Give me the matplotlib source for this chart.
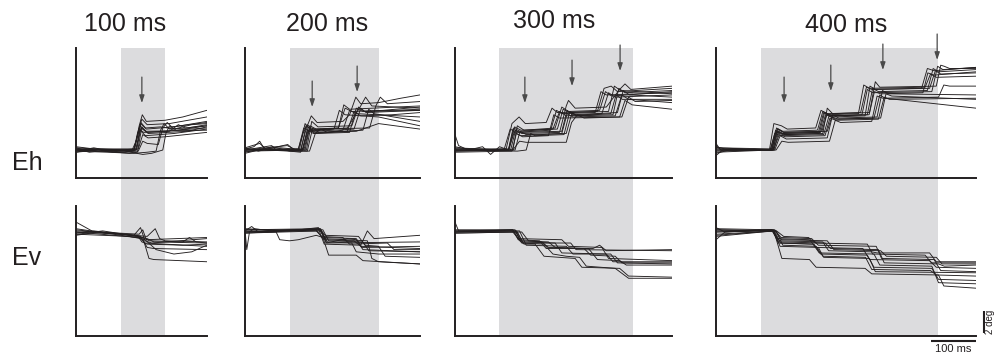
import matplotlib
matplotlib.use('Agg')
import matplotlib.pyplot as plt
from matplotlib.patches import Rectangle
from matplotlib.transforms import blended_transform_factory

plt.rcParams['font.family'] = ['Liberation Sans', 'DejaVu Sans']

# ---------------- data ----------------
TITLES = ["100 ms", "200 ms", "300 ms", "400 ms"]
ROW_LABELS = ["Eh", "Ev"]
WINDOW_MS = [100, 200, 300, 400]
T_START = -100
T_END = [194, 293, 388, 484]
EH_YLIM = (-2.54, 9.26)
EV_YLIM = (-9.44, 2.36)
ARROW_T = [[48], [51, 152], [57, 163, 271], [53, 158, 275, 397]]
ARROW_TIP = [[4.26], [3.9, 5.26], [4.26, 5.8, 7.17], [4.26, 5.35, 7.26, 8.17]]
ARROW_LEN = 2.36
SCALE_MS = 100
SCALE_DEG = 2
SCALE_LABELS = ["100 ms", "2 deg"]

# Horizontal eye position (deg), traces as (time ms, value) vertices
EH_100 = [
    [(-100, 0.2), (-80, 0.0), (-40, 0.1), (0, 0.0), (32, 0.1), (42, 2.2), (49, 3.2), (58, 2.6), (100, 2.7), (140, 3.0), (194, 3.6)],
    [(-100, -0.1), (-60, 0.2), (-20, -0.1), (30, 0.0), (38, 1.5), (48, 2.8), (60, 2.3), (110, 2.4), (194, 3.0)],
    [(-100, 0.1), (-70, -0.2), (-30, 0.0), (25, -0.1), (35, 0.8), (45, 2.4), (58, 1.9), (120, 2.1), (194, 2.6)],
    [(-100, -0.2), (-50, 0.0), (10, -0.2), (36, 0.0), (46, 2.0), (60, 1.6), (130, 1.8), (194, 2.2)],
    [(-100, 0.3), (-60, 0.1), (0, -0.1), (34, 0.0), (44, 1.8), (56, 1.3), (120, 1.5), (194, 1.9)],
    [(-100, 0.0), (-40, -0.1), (20, -0.3), (38, -0.2), (48, 2.1), (62, 1.5), (150, 1.7), (194, 2.1)],
    [(-100, 0.1), (-50, -0.1), (20, 0.0), (40, 0.1), (50, 1.4), (62, 1.1), (100, 1.2), (194, 1.6)],
    [(-100, -0.1), (-30, -0.2), (30, -0.3), (60, -0.2), (80, -0.1), (90, 1.8), (98, 2.4), (110, 1.9), (150, 2.0), (194, 2.3)],
    [(-100, 0.0), (0, -0.2), (40, -0.1), (50, 0.8), (60, 0.6), (85, 0.5), (95, 2.0), (105, 2.5), (115, 2.1), (194, 2.5)],
    [(-100, 0.2), (10, -0.1), (50, -0.4), (70, -0.3), (95, 0.0), (102, 1.5), (110, 2.2), (125, 1.8), (194, 2.0)],
    [(-100, 0.0), (-20, 0.1), (36, 0.1), (46, 2.5), (56, 2.0), (90, 2.1), (120, 1.9), (160, 2.3), (194, 2.4)],
    [(-100, -0.2), (-60, 0.1), (30, 0.0), (42, 1.9), (52, 1.6), (110, 1.7), (130, 2.3), (145, 2.0), (194, 2.2)],
    [(-100, 0.1), (30, 0.0), (44, 2.2), (56, 1.7), (194, 1.8)],
]

EH_200 = [
    [(-100, 0.1), (-80, 0.3), (-67, 0.8), (-55, 0.0), (-20, 0.1), (25, 0.0), (38, 2.0), (49, 3.1), (62, 2.5), (120, 2.6), (135, 3.2), (149, 4.8), (160, 4.2), (200, 4.3), (250, 4.7), (293, 5.0)],
    [(-100, 0.0), (-40, 0.4), (-30, 0.0), (20, 0.1), (30, 1.5), (40, 2.3), (52, 1.9), (110, 2.0), (125, 3.8), (140, 3.5), (210, 3.6), (293, 3.9)],
    [(-100, -0.2), (-60, 0.1), (-10, 0.0), (22, 0.0), (35, 2.4), (48, 1.8), (130, 2.0), (160, 4.0), (171, 4.8), (185, 4.0), (293, 3.8)],
    [(-100, 0.2), (-70, -0.1), (-4, 0.5), (10, 0.0), (30, 0.1), (42, 2.1), (55, 1.7), (145, 1.9), (160, 3.8), (172, 3.4), (293, 3.6)],
    [(-100, -0.1), (-50, 0.0), (28, -0.1), (40, 1.8), (54, 1.5), (130, 1.7), (145, 3.5), (160, 3.1), (230, 3.2), (293, 3.4)],
    [(-100, 0.0), (-20, 0.2), (35, 0.0), (46, 2.2), (60, 1.9), (180, 2.0), (194, 4.0), (204, 4.8), (220, 4.2), (293, 4.4)],
    [(-100, 0.1), (0, -0.1), (45, -0.1), (58, 1.5), (70, 1.9), (85, 1.6), (120, 1.8), (135, 3.6), (150, 3.3), (293, 3.0)],
    [(-100, -0.1), (30, 0.0), (42, 1.8), (58, 1.6), (150, 1.7), (200, 2.4), (293, 1.9)],
    [(-100, 0.0), (20, 0.1), (32, 2.0), (44, 1.7), (100, 1.9), (112, 3.6), (125, 3.2), (200, 3.0), (293, 2.2)],
    [(-100, 0.2), (-67, 0.6), (-50, 0.0), (38, 0.0), (50, 2.6), (64, 2.1), (140, 2.2), (155, 3.9), (168, 3.5), (293, 3.7)],
    [(-100, -0.3), (-38, 0.3), (0, -0.1), (25, -0.2), (37, 2.2), (50, 1.8), (110, 2.0), (122, 4.1), (135, 3.7), (293, 4.0)],
    [(-100, 0.1), (40, -0.1), (52, 2.0), (65, 1.6), (165, 1.8), (178, 3.7), (190, 3.3), (293, 2.6)],
    [(-100, 0.0), (-5, 0.4), (15, 0.0), (33, 0.1), (44, 1.9), (57, 1.5), (135, 1.6), (150, 3.8), (165, 3.5), (293, 3.6)],
]

EH_300 = [
    [(-100, 0.3), (-60, 0.0), (15, 0.1), (28, 2.4), (44, 3.0), (58, 2.4), (105, 2.5), (118, 3.8), (130, 3.4), (220, 3.5), (235, 5.6), (251, 5.8), (265, 5.3), (388, 5.6)],
    [(-100, 1.4), (-92, 0.4), (-70, 0.0), (-38, 0.3), (-20, -0.4), (0, 0.3), (20, 0.0), (32, 2.0), (46, 1.7), (120, 1.9), (135, 3.5), (150, 3.1), (230, 3.3), (245, 5.2), (260, 4.8), (388, 5.0)],
    [(-100, 0.0), (25, 0.0), (36, 1.8), (50, 1.5), (135, 1.6), (150, 4.0), (155, 4.5), (170, 3.8), (240, 3.9), (270, 5.5), (282, 6.0), (295, 5.5), (388, 5.8)],
    [(-100, -0.1), (20, 0.0), (33, 1.6), (48, 1.3), (140, 1.5), (152, 3.3), (165, 3.0), (260, 3.1), (275, 5.0), (290, 4.6), (388, 4.3)],
    [(-100, 0.1), (30, 0.0), (40, 2.2), (55, 1.8), (125, 2.0), (140, 3.9), (155, 3.5), (225, 3.6), (238, 5.3), (252, 4.9), (388, 5.3)],
    [(-100, 0.0), (40, -0.1), (60, 0.0), (70, 1.5), (80, 1.3), (145, 1.4), (158, 3.5), (172, 3.1), (250, 3.3), (262, 5.0), (276, 4.6), (388, 4.6)],
    [(-100, -0.1), (30, 0.0), (45, 0.8), (60, 0.7), (150, 0.7), (162, 2.5), (175, 3.2), (190, 2.9), (270, 3.0), (282, 4.5), (298, 4.1), (388, 3.7)],
    [(-100, 0.2), (10, 0.0), (24, 1.9), (38, 1.6), (115, 1.8), (128, 3.6), (140, 3.3), (215, 3.4), (228, 5.3), (240, 5.0), (388, 5.2)],
    [(-100, 0.0), (35, 0.0), (46, 1.7), (60, 1.4), (150, 1.5), (163, 3.4), (175, 3.1), (255, 3.2), (268, 5.6), (282, 5.2), (388, 5.4)],
    [(-100, 0.1), (22, 0.1), (34, 2.1), (48, 1.8), (130, 1.9), (143, 3.7), (157, 3.4), (245, 3.5), (258, 5.8), (272, 5.4), (388, 5.1)],
    [(-100, -0.2), (28, -0.1), (38, 1.5), (52, 1.2), (110, 1.3), (122, 3.2), (135, 2.9), (275, 3.0), (290, 4.8), (305, 4.4), (388, 4.5)],
    [(-100, 0.0), (20, 0.0), (30, 1.9), (44, 1.6), (140, 1.7), (152, 3.6), (165, 3.2), (265, 3.4), (278, 5.4), (292, 5.0), (388, 4.8)],
]

EH_400 = [
    [(-100, 0.6), (-90, 0.0), (-60, 0.1), (20, 0.0), (30, 2.4), (47, 2.2), (60, 1.9), (124, 2.0), (136, 3.6), (150, 3.3), (225, 3.4), (238, 5.7), (250, 5.5), (362, 5.6), (375, 7.4), (390, 7.2), (484, 7.5)],
    [(-100, -0.5), (-85, 0.0), (22, 0.0), (34, 1.8), (48, 1.5), (130, 1.6), (142, 3.4), (155, 3.1), (240, 3.2), (252, 5.6), (265, 5.3), (375, 5.4), (388, 7.4), (400, 7.1), (484, 7.3)],
    [(-100, 0.3), (-80, 0.1), (25, 0.0), (36, 1.6), (50, 1.4), (140, 1.5), (150, 3.8), (162, 3.3), (245, 3.4), (258, 6.2), (268, 5.7), (395, 5.8), (405, 7.7), (413, 7.6), (425, 7.4), (484, 7.4)],
    [(-100, -0.3), (-70, 0.0), (28, 0.0), (40, 1.9), (52, 1.6), (150, 1.7), (160, 3.0), (175, 2.8), (255, 2.9), (268, 5.0), (280, 4.7), (484, 3.8)],
    [(-100, 0.2), (30, 0.1), (42, 1.4), (56, 1.2), (145, 1.3), (156, 2.9), (170, 2.7), (265, 2.8), (278, 4.8), (290, 4.6), (484, 4.7)],
    [(-100, 0.0), (26, 0.0), (36, 2.0), (50, 1.7), (128, 1.8), (140, 3.5), (154, 3.2), (220, 3.3), (232, 5.9), (245, 5.6), (370, 5.7), (382, 6.9), (395, 6.6), (484, 6.7)],
    [(-100, 0.1), (32, 0.0), (44, 1.3), (58, 1.0), (150, 1.1), (162, 3.2), (176, 2.9), (262, 3.0), (274, 5.4), (288, 5.1), (484, 5.0)],
    [(-100, -0.2), (24, 0.0), (35, 1.7), (48, 1.5), (135, 1.6), (146, 3.2), (160, 3.0), (235, 3.1), (246, 5.8), (258, 5.5), (380, 5.6), (393, 7.2), (405, 6.9), (484, 7.0)],
    [(-100, 0.4), (-88, 0.0), (35, 0.0), (48, 0.8), (62, 0.7), (155, 0.8), (168, 2.7), (180, 2.5), (250, 2.6), (262, 4.9), (275, 4.7), (400, 4.8), (412, 5.9), (425, 5.8), (484, 5.8)],
    [(-100, 0.0), (28, 0.0), (38, 1.9), (52, 1.6), (138, 1.7), (150, 3.3), (163, 3.1), (228, 3.2), (240, 5.5), (252, 5.2), (385, 5.3), (398, 7.6), (410, 7.3), (484, 7.5)],
    [(-100, -0.1), (22, 0.0), (32, 1.5), (46, 1.3), (142, 1.4), (154, 3.1), (168, 2.8), (270, 2.9), (282, 5.1), (295, 4.9), (484, 4.6)],
    [(-100, 0.2), (30, 0.0), (41, 1.7), (55, 1.4), (132, 1.5), (144, 3.4), (158, 3.1), (244, 3.2), (256, 5.3), (270, 5.1), (365, 5.2), (376, 7.0), (390, 6.8), (484, 7.1)],
]

# Vertical eye position (deg)
EV_100 = [
    [(-100, 0.9), (-60, 0.0), (-40, 0.1), (40, -0.4), (60, -0.6), (75, -0.9), (194, -1.0)],
    [(-100, 0.2), (-55, 0.0), (30, -0.3), (45, 0.4), (55, -0.8), (70, -1.0), (194, -0.6)],
    [(-100, -0.3), (-50, 0.0), (35, -0.5), (50, -0.5), (64, -2.4), (75, -2.5), (194, -2.7)],
    [(-100, 0.0), (40, -0.5), (55, -0.7), (80, -1.6), (120, -2.0), (160, -1.8), (194, -1.2)],
    [(-100, -0.2), (-50, 0.0), (60, -0.4), (78, 0.3), (88, -0.6), (100, -0.8), (194, -0.9)],
    [(-100, 0.3), (-50, 0.0), (38, -0.3), (48, -0.9), (60, -1.1), (140, -1.2), (194, -1.1)],
    [(-100, -0.1), (-60, 0.1), (45, -0.4), (60, -1.4), (75, -1.5), (194, -1.6)],
    [(-100, 0.0), (0, -0.2), (50, -0.5), (65, -0.8), (140, -0.9), (155, -0.5), (170, -0.9), (194, -1.0)],
    [(-100, 0.1), (-50, 0.0), (42, -0.2), (50, 0.2), (58, -0.7), (194, -0.5)],
    [(-100, -0.2), (20, -0.4), (45, -0.6), (55, -1.0), (100, -1.1), (194, -1.3)],
]

EV_200 = [
    [(-100, 0.2), (-96, -1.6), (-90, 0.0), (-80, 0.3), (-40, 0.1), (0, 0.2), (70, 0.2), (80, -0.7), (145, -0.8), (160, -1.3), (293, -1.5)],
    [(-100, 0.1), (-85, 0.5), (-70, 0.0), (70, 0.3), (82, -1.0), (130, -0.6), (150, -0.7), (165, -1.6), (293, -1.8)],
    [(-100, 0.0), (-30, 0.0), (-22, -0.7), (0, -0.8), (20, -0.7), (60, -0.3), (75, -0.5), (88, -2.1), (150, -2.1), (165, -2.6), (293, -2.9)],
    [(-100, 0.3), (0, 0.1), (65, 0.4), (78, -0.5), (150, -0.6), (163, -1.4), (293, -1.3)],
    [(-100, -0.1), (60, 0.2), (75, -0.6), (175, -0.8), (185, -2.4), (200, -2.7), (293, -2.9)],
    [(-100, 0.0), (65, 0.3), (78, -1.1), (160, -1.2), (175, 0.1), (190, -0.6), (293, -0.3)],
    [(-100, 0.2), (70, 0.2), (85, -0.9), (140, -1.0), (150, -1.8), (200, -2.0), (293, -2.0)],
    [(-100, 0.1), (60, 0.1), (72, -0.4), (120, -0.5), (135, -1.1), (220, -1.0), (235, -1.6), (293, -1.6)],
    [(-100, 0.0), (75, 0.2), (88, -0.8), (165, -0.9), (178, -1.7), (293, -1.8)],
    [(-100, 0.2), (68, 0.3), (80, -0.3), (155, -0.4), (170, -1.2), (200, -1.3), (215, -2.2), (293, -2.3)],
    [(-100, -0.1), (70, 0.1), (84, -1.0), (293, -0.9)],
]

EV_300 = [
    [(-100, 0.9), (-92, 0.1), (30, 0.2), (42, -0.7), (90, -0.8), (105, -1.5), (210, -1.5), (225, -1.2), (240, -1.7), (388, -1.6)],
    [(-100, 0.1), (35, 0.1), (50, -1.0), (100, -1.1), (120, -2.0), (150, -2.2), (180, -2.3), (195, -3.1), (260, -3.3), (290, -4.2), (388, -4.2)],
    [(-100, 0.0), (30, 0.2), (45, -0.8), (110, -0.9), (125, -1.4), (200, -1.5), (220, -2.5), (270, -2.6), (285, -3.0), (388, -3.0)],
    [(-100, -0.1), (40, 0.0), (55, -1.1), (80, -1.1), (100, -2.2), (170, -2.4), (185, -3.2), (270, -3.3), (290, -4.0), (388, -4.1)],
    [(-100, 0.1), (28, 0.1), (42, -0.6), (140, -0.7), (155, -1.3), (230, -1.4), (245, -2.4), (388, -2.6)],
    [(-100, 0.0), (45, 0.1), (60, -1.2), (150, -1.3), (165, -2.0), (250, -2.0), (265, -2.8), (388, -2.9)],
    [(-100, 0.2), (35, 0.2), (48, -0.9), (125, -1.0), (140, -1.9), (240, -2.0), (255, -2.7), (388, -2.7)],
    [(-100, -0.1), (50, 0.0), (65, -0.8), (95, -0.9), (110, -1.4), (190, -1.5), (205, -2.1), (260, -2.2), (275, -2.8), (388, -2.8)],
    [(-100, 0.0), (38, 0.1), (52, -1.0), (160, -1.0), (172, -1.6), (388, -1.7)],
]

EV_400 = [
    [(-100, 0.4), (-80, 0.0), (25, 0.2), (38, -0.6), (110, -0.7), (125, -1.4), (230, -1.5), (245, -2.5), (380, -2.6), (395, -3.2), (484, -3.3)],
    [(-100, -0.7), (-80, 0.0), (30, 0.2), (45, -1.0), (120, -1.1), (135, -2.0), (240, -2.1), (255, -3.2), (385, -3.3), (400, -4.3), (484, -4.4)],
    [(-100, 0.2), (30, 0.1), (48, -2.4), (110, -2.5), (125, -3.2), (235, -3.3), (250, -3.8), (400, -3.9), (412, -4.9), (484, -5.1)],
    [(-100, -0.3), (28, 0.1), (42, -0.8), (140, -0.9), (153, -1.7), (250, -1.8), (262, -1.9), (380, -1.9), (395, -2.7), (484, -2.7)],
    [(-100, 0.1), (32, 0.2), (46, -0.5), (115, -0.6), (130, -1.2), (260, -1.3), (272, -2.4), (390, -2.5), (405, -3.5), (484, -3.6)],
    [(-100, 0.0), (35, 0.1), (50, -1.2), (125, -1.3), (140, -2.2), (236, -2.3), (250, -3.4), (382, -3.5), (395, -3.9), (484, -4.0)],
    [(-100, 0.3), (25, 0.2), (40, -0.9), (145, -1.0), (158, -1.5), (265, -1.6), (278, -2.8), (400, -2.9), (413, -3.1), (484, -3.0)],
    [(-100, -0.4), (30, 0.1), (44, -1.3), (130, -1.4), (142, -2.3), (245, -2.4), (258, -3.6), (484, -3.7)],
    [(-100, 0.2), (33, 0.1), (47, -0.7), (150, -0.8), (165, -1.6), (270, -1.7), (283, -2.2), (395, -2.3), (408, -2.9), (484, -2.9)],
    [(-100, 0.0), (27, 0.2), (40, -1.0), (118, -1.1), (132, -1.9), (255, -2.0), (268, -3.0), (385, -3.1), (400, -4.6), (484, -4.7)],
    [(-100, -0.2), (36, 0.1), (52, -0.4), (108, -0.5), (122, -1.0), (240, -1.1), (252, -2.0), (370, -2.1), (384, -2.8), (484, -2.8)],
]

EH_TRACES = [EH_100, EH_200, EH_300, EH_400]
EV_TRACES = [EV_100, EV_200, EV_300, EV_400]

# ---------------- layout / style ----------------
W, H = 995, 354
PX_PER_MS = 0.445
AX_LEFT_PX = [76, 245, 455, 716]
TOP_ROW_PX = (48, 178)
BOT_ROW_PX = (206, 336)
INK = '#231f20'
SHADE = '#dcdcde'
ARROW_COLOR = '#4a4a4a'

fig = plt.figure(figsize=(W / 100, H / 100), dpi=100)


def fbox(left_px, top_px, w_px, h_px):
    return [left_px / W, 1 - (top_px + h_px) / H, w_px / W, h_px / H]


def style_axes(ax):
    ax.set_facecolor('none')
    for s in ('top', 'right'):
        ax.spines[s].set_visible(False)
    for s in ('left', 'bottom'):
        ax.spines[s].set_linewidth(1.4)
        ax.spines[s].set_color(INK)
    ax.set_xticks([])
    ax.set_yticks([])


last_bottom = None
for c in range(4):
    w_px = (T_END[c] - T_START) * PX_PER_MS
    ax_t = fig.add_axes(fbox(AX_LEFT_PX[c], TOP_ROW_PX[0], w_px, TOP_ROW_PX[1] - TOP_ROW_PX[0]))
    ax_b = fig.add_axes(fbox(AX_LEFT_PX[c], BOT_ROW_PX[0], w_px, BOT_ROW_PX[1] - BOT_ROW_PX[0]))
    for ax, traces, ylim in ((ax_t, EH_TRACES[c], EH_YLIM), (ax_b, EV_TRACES[c], EV_YLIM)):
        style_axes(ax)
        ax.set_xlim(T_START, T_END[c])
        ax.set_ylim(*ylim)
        for tr in traces:
            t, y = zip(*tr)
            ax.plot(t, y, color=INK, lw=0.65, solid_joinstyle='round')
    # stimulus window shading spanning both rows
    trans = blended_transform_factory(ax_t.transData, fig.transFigure)
    y0 = 1 - BOT_ROW_PX[1] / H
    y1 = 1 - TOP_ROW_PX[0] / H
    rect = Rectangle((0, y0), WINDOW_MS[c], y1 - y0, transform=trans,
                     facecolor=SHADE, edgecolor='none', zorder=-5)
    fig.add_artist(rect)
    # arrows
    for t_a, tip in zip(ARROW_T[c], ARROW_TIP[c]):
        ax_t.annotate('', xy=(t_a, tip), xytext=(t_a, tip + ARROW_LEN),
                      arrowprops=dict(arrowstyle='-|>,head_length=0.45,head_width=0.15',
                                      color=ARROW_COLOR, lw=0.9, shrinkA=0, shrinkB=0,
                                      mutation_scale=10),
                      annotation_clip=False)
    last_bottom = ax_b

# titles
TITLE_POS_PX = [(125, 24), (327, 24), (554, 21), (846, 25)]
for txt, (px, py) in zip(TITLES, TITLE_POS_PX):
    fig.text(px / W, 1 - py / H, txt, ha='center', va='center', fontsize=18, color=INK)

# row labels
ROW_POS_PX = [(12, 163), (12, 258)]
for txt, (px, py) in zip(ROW_LABELS, ROW_POS_PX):
    fig.text(px / W, 1 - py / H, txt, ha='left', va='center', fontsize=18, color=INK)

# scale bars on the last bottom axes
ax = last_bottom
t1 = T_END[-1]
t0 = t1 - SCALE_MS
yb = EV_YLIM[0] - 0.45
ax.plot([t0, t1], [yb, yb], color=INK, lw=1.5, clip_on=False, solid_capstyle='butt')
ax.text((t0 + t1) / 2, yb - 0.25, SCALE_LABELS[0], ha='center', va='top', fontsize=8, color=INK)
xv = t1 + 18
yv0 = EV_YLIM[0] + 0.27
ax.plot([xv, xv], [yv0, yv0 + SCALE_DEG], color=INK, lw=1.5, clip_on=False, solid_capstyle='butt')
ax.text(xv + 14, yv0 + SCALE_DEG / 2, SCALE_LABELS[1], rotation=90, ha='center', va='center',
        fontsize=7, color=INK, clip_on=False)

fig.savefig('out.png', dpi=100)
